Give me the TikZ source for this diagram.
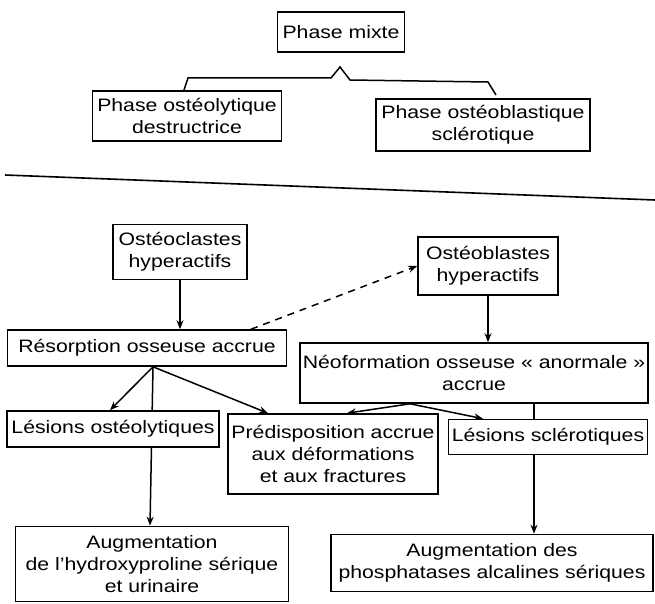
\documentclass[tikz,border=0pt]{standalone}
\usepackage{fontspec}
\setmainfont{Liberation Sans}[FakeStretch=1.18]
\usetikzlibrary{arrows.meta,backgrounds}
\begin{document}
\begin{tikzpicture}[x=1pt,y=-1pt,
  box/.style={draw, line width=1.6pt, fill=white, align=center, inner sep=0pt,
              font=\fontsize{18}{22}\selectfont},
  conn/.style={line width=1.5pt},
  arr/.style={conn, -{Stealth[length=9pt,width=7pt]}},
  dashconn/.style={arr, dash pattern=on 7pt off 6pt}]
\useasboundingbox (0,0) rectangle (655,604);

% top part
\node[box, minimum width=127pt, minimum height=40pt] (mix) at (341,32) {Phase mixte};
\node[box, minimum width=189pt, minimum height=50pt] (pol) at (187,116) {Phase ostéolytique\\destructrice};
\node[box, minimum width=214pt, minimum height=52pt] (pob) at (483,125) {Phase ostéoblastique\\sclérotique};

% lower part
\node[box, minimum width=134pt, minimum height=55pt] (oc) at (180,252) {Ostéoclastes\\hyperactifs};
\node[box, minimum width=140pt, minimum height=58pt] (ob) at (488,266) {Ostéoblastes\\hyperactifs};
\node[box, minimum width=279pt, minimum height=36pt] (res) at (147,348) {Résorption osseuse accrue};
\node[box, minimum width=348pt, minimum height=60pt] (neo) at (474,373) {Néoformation osseuse «~anormale~»\\accrue};
\node[box, minimum width=212pt, minimum height=36pt] (lo) at (113,429) {Lésions ostéolytiques};
\node[box, minimum width=210pt, minimum height=80pt] (pr) at (333,454) {Prédisposition accrue\\aux déformations\\et aux fractures};
\node[box, minimum width=199pt, minimum height=35pt] (ls) at (548,437) {Lésions sclérotiques};
\node[box, minimum width=273pt, minimum height=75pt] (hy) at (152,564) {Augmentation\\de l'hydroxyproline sérique\\et urinaire};
\node[box, minimum width=322pt, minimum height=57pt] (ph) at (492,563) {Augmentation des\\phosphatases alcalines sériques};

\begin{scope}[on background layer]
  \fill[white] (0,0) rectangle (655,604);
  % brace under "Phase mixte"
  \draw[conn] (183,93) -- (188,78) -- (331,78) -- (340,67) -- (350,80) -- (488,82) -- (496,95);
  % separating rule
  \draw[line width=1.6pt] (5,175) -- (655,200);
  % connectors
  \draw[arr] (oc.south) -- (oc.south |- res.north);
  \draw[arr] (ob.south) -- (ob.south |- neo.north);
  \draw[dashconn] (251,0 |- res.north) -- (ob.west);
  \coordinate (f1) at (153,0 |- res.south);
  \draw[arr] (f1) -- (110,0 |- lo.north);
  \draw[arr] (f1) -- (150,0 |- hy.north);
  \draw[arr] (f1) -- (268,0 |- pr.north);
  \coordinate (f2) at (410,0 |- neo.south);
  \draw[arr] (f2) -- (347,0 |- pr.north);
  \draw[arr] (f2) -- (483,0 |- ls.north);
  \draw[arr] (534,0 |- neo.south) -- (534,0 |- ph.north);
\end{scope}
\end{tikzpicture}
\end{document}
